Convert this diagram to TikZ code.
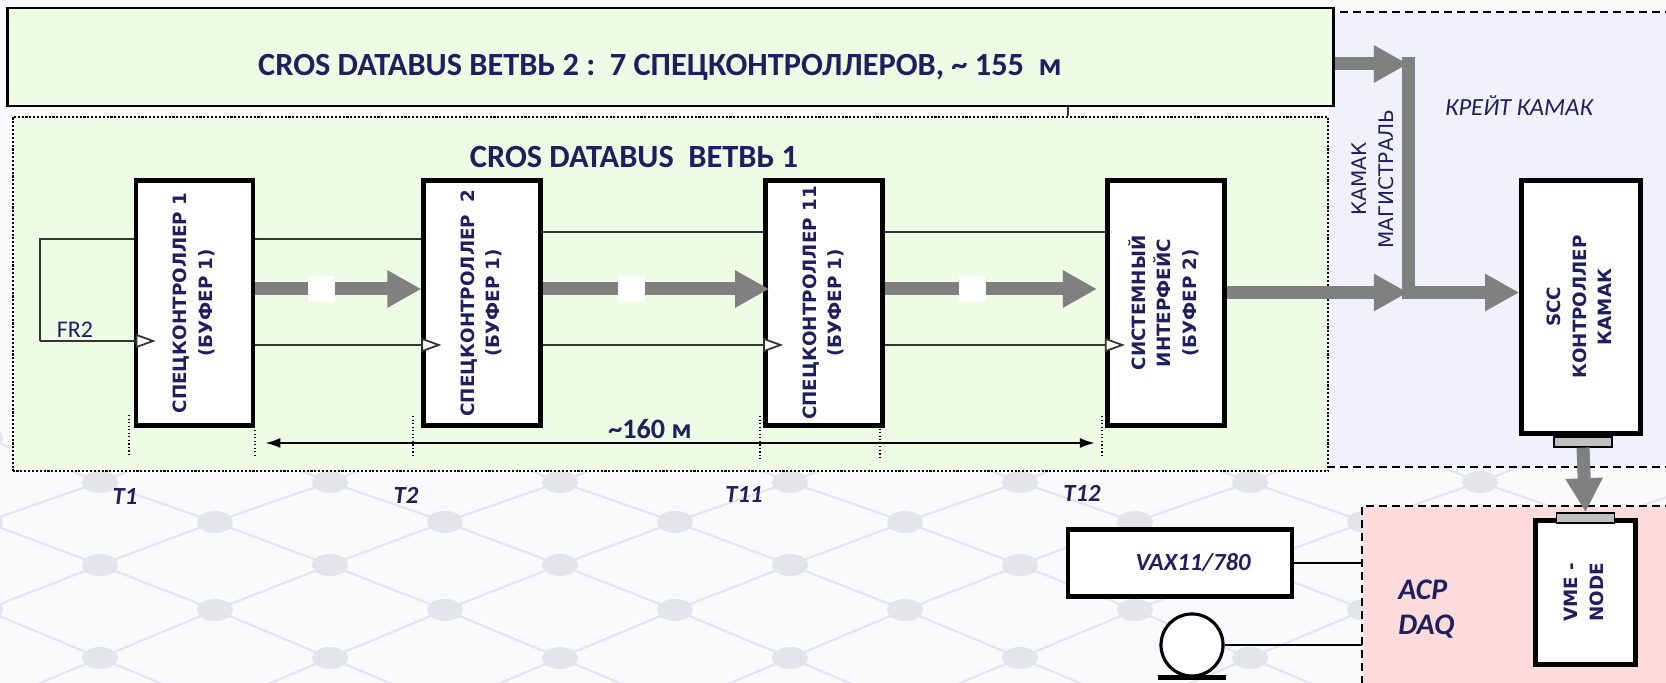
\documentclass[tikz,border=0pt]{standalone}
\usepackage{fontspec}
\usepackage{graphicx}
\setmainfont{Carlito}
\newfontfamily\verdfont{DejaVu Sans}
\usetikzlibrary{arrows.meta, positioning, calc}
\definecolor{NodeNavy}{HTML}{1F1F5F}
\definecolor{BusGray}{HTML}{808080}
\definecolor{PortGray}{HTML}{C0C0C0}
\definecolor{BranchGreen}{HTML}{EEFCE5}
\definecolor{CrateLilac}{HTML}{F1F1FD}
\definecolor{DaqPink}{HTML}{FEDCDC}
\definecolor{SlideBg}{HTML}{FAFAFD}
\definecolor{MeshGray}{HTML}{E4E4EB}
\newcommand{\vlabel}[1]{\rotatebox{90}{\begin{tabular}{@{}c@{}}#1\end{tabular}}}

\begin{document}
\begin{tikzpicture}[
    x=0.01cm, y=-0.01cm,
    unit/.style={draw, line width=1.3pt, fill=white, inner sep=0pt,
        minimum width=1.17cm, minimum height=2.45cm, text=NodeNavy,
        font=\verdfont\bfseries\fontsize{5.2}{7.2}\selectfont},
    port/.style={draw, line width=0.5pt, fill=PortGray, inner sep=0pt,
        minimum width=0.58cm, minimum height=0.1cm},
    wire/.style={line width=0.45pt, draw=black!80},
    clk/.style={wire, -{Triangle[length=0.2cm, width=0.14cm, fill=white, line width=0.5pt]}},
    bus/.style={line width=0.13cm, BusGray, -{Triangle[length=0.34cm, width=0.35cm]}},
    busline/.style={line width=0.13cm, BusGray},
    dimline/.style={line width=0.6pt, {Latex[length=0.15cm, width=0.1cm]}-{Latex[length=0.15cm, width=0.1cm]}},
    tickline/.style={line width=0.4pt, dash pattern=on 0.4pt off 0.6pt},
    dotline/.style={line width=0.6pt, dash pattern=on 0.6pt off 0.5pt},
    dashline/.style={line width=0.6pt, dash pattern=on 0.08cm off 0.05cm},
    tlabel/.style={font=\bfseries\itshape\fontsize{7}{8}\selectfont, text=NodeNavy},
    gap/.style={fill=white, inner sep=0pt, minimum width=0.27cm, minimum height=0.26cm},
    mesh/.style={line width=0.6pt, MeshGray},
]
\useasboundingbox (0,0) rectangle (1666,683);
\clip (0,0) rectangle (1666,683);

% ============ фон ============
\fill[SlideBg] (0,0) rectangle (1666,683);
\foreach \ya/\yb/\off in {438/482/215, 482/522/100, 522/565/215, 565/610/100, 610/658/215, 658/706/100}{
  \foreach \i in {-1,...,8}{
    \pgfmathsetmacro\xa{\off+230*\i}
    \draw[mesh] (\xa,\ya) -- (\xa+115,\yb) (\xa,\ya) -- (\xa-115,\yb);
    \fill[MeshGray] (\xa,\ya) ellipse [x radius=0.18cm, y radius=0.11cm];
  }
}

% ============ области ============
\node[fill=CrateLilac, inner sep=0pt, minimum width=3.4cm, minimum height=4.53cm] (crate) at (1498,239.5) {};
\draw[dashline] (crate.north west) -- (crate.north east);
\draw[dashline] (crate.south west) -- (crate.south east);
\node[fill=DaqPink, inner sep=0pt, minimum width=3.1cm, minimum height=1.9cm, anchor=north west] (daq) at (1362,506) {};
\draw[dashline] (daq.south west) -- (daq.north west) -- (daq.north east);

\node[draw, dotline, fill=BranchGreen, inner sep=0pt, minimum width=13.15cm, minimum height=3.54cm] (br1) at (670.5,294) {};
\node[draw, line width=0.75pt, fill=BranchGreen, inner sep=0pt, minimum width=13.25cm, minimum height=0.98cm] (br2) at (670.5,57) {};
\coordinate (mark) at (1068,0);
\draw[wire] (br2.south -| mark) -- (br1.north -| mark);

\node[font=\bfseries\fontsize{9.2}{11}\selectfont, text=NodeNavy] (br2title) at (660,67)
    {CROS DATABUS ВЕТВЬ 2 :\ \ 7 СПЕЦКОНТРОЛЛЕРОВ, \textasciitilde\ 155\ \ м};
\node[font=\bfseries\fontsize{9.2}{11}\selectfont, text=NodeNavy] (br1title) at (634,157)
    {CROS DATABUS\ \ ВЕТВЬ 1};
\node[font=\itshape\fontsize{7}{9}\selectfont, text=NodeNavy] (cratelbl) at (1519,106) {КРЕЙТ КАМАК};
\node[font=\verdfont\fontsize{5.7}{7.7}\selectfont, text=NodeNavy, rotate=90, align=center] (maglbl) at (1373,179)
    {КАМАК\\МАГИСТРАЛЬ};

% ============ ветвь 1 ============
\node[unit] (b1) at (194.5,303) {\vlabel{СПЕЦКОНТРОЛЛЕР 1\\(БУФЕР 1)}};
\node[unit, right=1.66cm of b1] (b2) {\vlabel{СПЕЦКОНТРОЛЛЕР\ \ 2\\(БУФЕР 1)}};
\node[unit, right=2.2cm of b2] (b11) {\vlabel{СПЕЦКОНТРОЛЛЕР 11\\(БУФЕР 1)}};
\node[unit, right=2.2cm of b11] (si) {\vlabel{СИСТЕМНЫЙ\\ИНТЕРФЕЙС\\(БУФЕР 2)}};

\coordinate (upA) at (0,239);
\coordinate (upB) at (0,232);
\coordinate (lowA) at (0,345);
\coordinate (fb) at (40,341);
\coordinate (busy) at (0,289);
\draw[wire] (b1.west |- upA) -| (fb);
\draw[clk] (fb) -- ([xshift=0.22cm]b1.west |- fb);
\node[font=\fontsize{6.8}{8}\selectfont, text=NodeNavy] (fr2) at (75,330) {FR2};
\draw[wire] (b1.east |- upA) -- (b2.west |- upA);
\foreach \p/\q in {b2/b11,b11/si} \draw[wire] (\p.east |- upB) -- (\q.west |- upB);
\foreach \p/\q in {b1/b2,b2/b11,b11/si} \draw[clk] (\p.east |- lowA) -- ([xshift=0.2cm]\q.west |- lowA);
\foreach \p/\q/\g/\s in {b1/b2/g1/0, b2/b11/g2/-0.06, b11/si/g3/0.08}
    \draw[bus, shorten >=\s cm] (\p.east |- busy) -- node[gap, pos=.4] (\g) {} (\q.west |- busy);

% длина ветви
\foreach \x/\a/\b in {129/415/455, 255/430/457, 413/416/457, 760/416/459, 880/425/459, 1102/416/455}
    \draw[tickline] (\x,\a) -- (\x,\b);
\coordinate (dimy) at (0,443);
\draw[dimline] ([xshift=0.1cm]b1.east |- dimy) -- ([xshift=-0.1cm]si.west |- dimy);
\node[font=\bfseries\fontsize{8}{9}\selectfont, text=NodeNavy] (len) at (650,429) {\textasciitilde160 м};
\foreach \n/\t/\x/\y in {t1/T1/125/497, t2/T2/406/495, t11/T11/744/495, t12/T12/1082/493}
    \node[tlabel] (\n) at (\x,\y) {\t};

% ============ крейт КАМАК ============
\node[unit, minimum width=1.19cm, minimum height=2.53cm] (scc) at (1581,307) {\vlabel{SCC\\КОНТРОЛЛЕР\\КАМАК}};
\coordinate (jt) at (1408,64);
\coordinate (jn) at (1408,292.5);
\draw[busline, line cap=rect] (jt) -- (jn);
\draw[bus] (br2.east |- jt) -- (jt);
\draw[bus] (si.east |- jn) -- (jn);
\draw[bus] (jn) -- (scc.west |- jn);

% ============ ACP DAQ ============
\node[unit, minimum width=1.0cm, minimum height=1.44cm] (vme) at (1585.5,592.5) {\vlabel{VME -\\NODE}};
\node[port, below=0pt of scc, xshift=0.02cm] (sccport) {};
\node[port] (vmeport) at (vme.north) {};
\draw[bus] (sccport.south) -- (vmeport.north);

\node[font=\bfseries\itshape\fontsize{8.5}{10}\selectfont, text=NodeNavy, align=left, anchor=west] (acp) at (1386,609)
    {ACP\\DAQ};
\node[draw, line width=1.2pt, fill=white, minimum width=2.24cm, minimum height=0.67cm,
      font=\bfseries\itshape\fontsize{7}{8}\selectfont, text=NodeNavy] (vax) at (1180,563) {\hspace*{0.26cm}VAX11/780};
\node[draw, circle, line width=0.9pt, fill=white, minimum size=0.62cm, inner sep=0pt] (tape) at (1192,645) {};
\draw[line width=1.2pt] ([xshift=-0.34cm]tape.south) -- ([xshift=0.34cm]tape.south);
\draw[line width=0.6pt] (vax.east) -- (vax.east -| daq.west);
\draw[line width=0.6pt] (tape.east) -- (tape.east -| daq.west);

\end{tikzpicture}
\end{document}
